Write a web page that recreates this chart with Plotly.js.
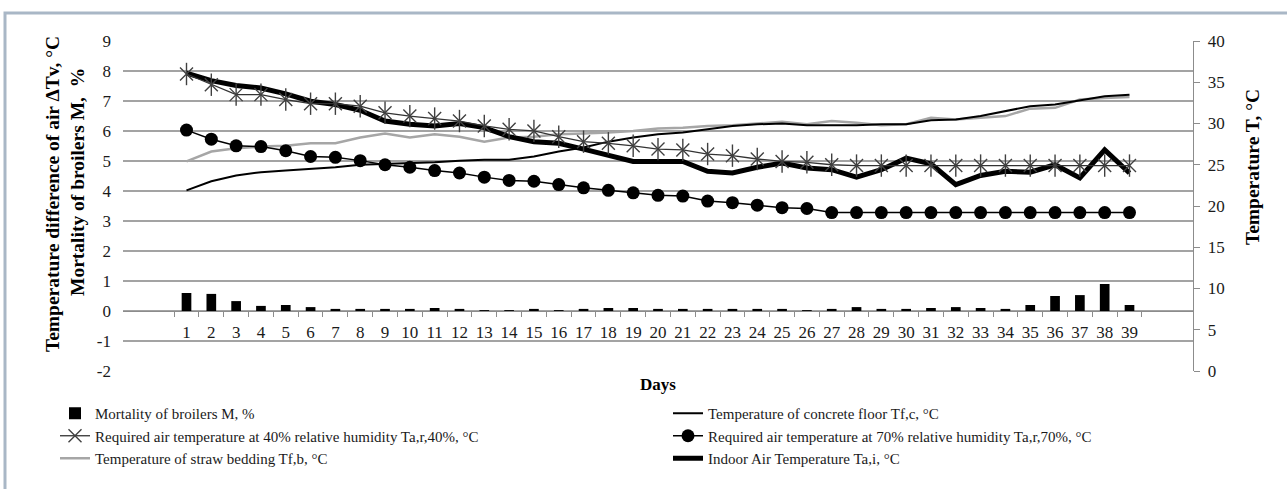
<!DOCTYPE html>
<html>
<head>
<meta charset="utf-8">
<script src="https://cdn.plot.ly/plotly-3.0.1.min.js"></script>
<style>
  html, body { margin: 0; padding: 0; background: #ffffff; }
  #chart { width: 1287px; height: 489px; }
</style>
</head>
<body>
<div id="chart"></div>
<script>
// Days of the rearing period
const days = [1,2,3,4,5,6,7,8,9,10,11,12,13,14,15,16,17,18,19,20,
              21,22,23,24,25,26,27,28,29,30,31,32,33,34,35,36,37,38,39];

// Mortality of broilers M, % (left axis)
const mortality = [0.60,0.57,0.33,0.17,0.20,0.13,0.07,0.07,0.07,0.07,
                   0.10,0.07,0.03,0.03,0.07,0.03,0.07,0.10,0.10,0.07,
                   0.07,0.07,0.07,0.07,0.07,0.03,0.07,0.13,0.07,0.07,
                   0.10,0.13,0.10,0.07,0.20,0.50,0.53,0.90,0.20];

// Temperature of concrete floor Tf,c, °C (right axis)
const floorConcrete = [21.9,23.0,23.7,24.1,24.3,24.5,24.7,25.0,25.1,25.2,
                       25.3,25.5,25.6,25.6,26.0,26.6,27.1,27.8,28.3,28.7,
                       28.9,29.3,29.7,29.9,30.0,29.8,29.8,29.8,29.9,29.9,
                       30.4,30.5,30.9,31.5,32.1,32.3,32.8,33.3,33.5];

// Required air temperature at 40% RH Ta,r,40%, °C
const required40 = [36.0,34.7,33.5,33.5,32.9,32.4,32.4,32.1,31.3,30.9,
                    30.6,30.3,29.7,29.3,29.1,28.4,27.8,27.6,27.3,26.9,
                    26.8,26.3,26.1,25.7,25.4,25.3,25.0,24.9,24.9,24.9,
                    24.9,24.9,24.9,24.9,24.9,24.9,24.9,24.9,24.9];

// Required air temperature at 70% RH Ta,r,70%, °C
const required70 = [29.2,28.1,27.3,27.2,26.7,26.0,25.9,25.5,25.0,24.7,
                    24.3,24.0,23.5,23.1,23.0,22.6,22.2,21.9,21.6,21.3,
                    21.2,20.6,20.4,20.1,19.8,19.7,19.2,19.2,19.2,19.2,
                    19.2,19.2,19.2,19.2,19.2,19.2,19.2,19.2,19.2];

// Temperature of straw bedding Tf,b, °C
const strawBedding = [25.4,26.6,27.0,27.2,27.3,27.6,27.6,28.3,28.8,28.3,
                      28.7,28.4,27.8,28.3,28.4,28.7,28.8,28.9,29.1,29.4,
                      29.5,29.7,29.8,30.0,30.2,29.9,30.3,30.1,29.8,29.9,
                      30.7,30.5,30.7,30.9,31.8,31.9,32.9,33.1,33.2];

// Indoor air temperature Ta,i, °C
const indoorAir = [36.1,35.2,34.6,34.3,33.6,32.7,32.3,31.6,30.3,29.9,
                   29.7,30.0,29.5,28.4,27.8,27.6,26.9,26.1,25.4,25.4,
                   25.4,24.2,24.0,24.7,25.2,24.6,24.4,23.5,24.4,25.8,
                   25.1,22.6,23.7,24.2,24.1,25.0,23.4,26.8,24.0];

// Left axis tick values and their labels (plain hyphen for negatives)
const leftTicks = [-2,-1,0,1,2,3,4,5,6,7,8,9];
const leftTickLabels = ['-2','-1','0','1','2','3','4','5','6','7','8','9'];

const serif = 'Liberation Serif, "Times New Roman", serif';

// Figure geometry (pixels) used to place free text, legends and the frame
const W = 1287, H = 489;
const M = { l: 123, r: 94, t: 41, b: 118, autoexpand: false };
const plotW = W - M.l - M.r, plotH = H - M.t - M.b;
const px2x = px => (px - M.l) / plotW;
const py2y = py => (H - M.b - py) / plotH;

const leftRange = [-2, 9];
const rightRange = [0, 40];
const starColor = '#404040';
const axisGray = '#8c8c8c';

const traces = [
  {
    type: 'bar', x: days, y: mortality, name: 'Mortality of broilers M, %',
    marker: { color: '#000000' }, xaxis: 'x', yaxis: 'y',
    legend: 'legend', legendrank: 1
  },
  {
    type: 'scatter', mode: 'lines', x: days, y: strawBedding,
    name: 'Temperature of straw bedding Tf,b, °C',
    line: { color: '#a6a6a6', width: 2.5 }, yaxis: 'y2',
    legend: 'legend', legendrank: 3
  },
  {
    type: 'scatter', mode: 'lines', x: days, y: floorConcrete,
    name: 'Temperature of concrete floor Tf,c, °C',
    line: { color: '#000000', width: 2 }, yaxis: 'y2',
    legend: 'legend2', legendrank: 1
  },
  {
    type: 'scatter', mode: 'lines+markers', x: days, y: required70,
    name: 'Required air temperature at 70% relative humidity Ta,r,70%, °C',
    line: { color: '#000000', width: 1.5 },
    marker: { symbol: 'circle', size: 13, color: '#000000' },
    yaxis: 'y2', legend: 'legend2', legendrank: 2
  },
  {
    type: 'scatter', mode: 'lines', x: days, y: indoorAir,
    name: 'Indoor Air Temperature Ta,i, °C',
    line: { color: '#000000', width: 5 }, yaxis: 'y2',
    legend: 'legend2', legendrank: 3
  },
  {
    type: 'scatter', mode: 'lines+markers', x: days, y: required40,
    name: 'Required air temperature at 40% relative humidity Ta,r,40%, °C',
    line: { color: '#333333', width: 1.3 },
    marker: { symbol: 'x-thin-open', size: 13, color: starColor,
              line: { color: starColor, width: 1.4 } },
    yaxis: 'y2', legend: 'legend', legendrank: 2
  },
  {
    // vertical stroke completing the six-armed star marker
    type: 'scatter', mode: 'markers', x: days, y: required40,
    marker: { symbol: 'line-ns-open', size: 16, color: starColor,
              line: { color: starColor, width: 1.4 } },
    yaxis: 'y2', showlegend: false, hoverinfo: 'skip'
  }
];

const titleFont = { family: serif, size: 19.5, color: '#000000', weight: 'bold' };
const tickFont = { family: serif, size: 17, color: '#1a1a1a' };
const legendFont = { family: serif, size: 15, color: '#1a1a1a' };

const legendBase = {
  orientation: 'v',
  xanchor: 'left', yanchor: 'top',
  font: legendFont,
  bgcolor: 'rgba(0,0,0,0)',
  borderwidth: 0,
  itemwidth: 30,
  tracegroupgap: 0
};

const layout = {
  width: W, height: H,
  margin: M,
  paper_bgcolor: '#ffffff',
  plot_bgcolor: '#ffffff',
  font: { family: serif, color: '#1a1a1a' },
  showlegend: true,
  bargap: 0.61,
  xaxis: {
    type: 'category',
    anchor: 'free',
    position: (0 - leftRange[0]) / (leftRange[1] - leftRange[0]),
    showline: true, linecolor: axisGray, linewidth: 1.3,
    ticks: 'outside', ticklen: 5, tickcolor: axisGray, tickwidth: 1,
    tickson: 'boundaries', tickangle: 0,
    showgrid: false, zeroline: false,
    tickfont: tickFont,
    ticklabelstandoff: 5
  },
  yaxis: {
    range: leftRange,
    tickmode: 'array', tickvals: leftTicks, ticktext: leftTickLabels,
    showgrid: true, gridcolor: '#a3a3a3', gridwidth: 1.5,
    zeroline: false, showline: false, ticks: '',
    tickfont: tickFont,
    ticklabelstandoff: 11
  },
  yaxis2: {
    overlaying: 'y', side: 'right',
    range: rightRange, dtick: 5, tick0: 0,
    showgrid: false, zeroline: false,
    showline: true, linecolor: axisGray, linewidth: 1.3,
    ticks: 'outside', ticklen: 6, tickcolor: axisGray,
    tickfont: tickFont,
    ticklabelstandoff: 4
  },
  legend: Object.assign({}, legendBase, { x: px2x(55), y: py2y(397) }),
  legend2: Object.assign({}, legendBase, { x: px2x(668), y: py2y(397) }),
  annotations: [
    {
      text: 'Temperature difference of air ΔTv, °C',
      xref: 'paper', yref: 'paper', x: px2x(52), y: py2y(194),
      xanchor: 'center', yanchor: 'middle', textangle: -90, showarrow: false,
      font: titleFont
    },
    {
      text: 'Mortality of broilers M,  %',
      xref: 'paper', yref: 'paper', x: px2x(77), y: py2y(182),
      xanchor: 'center', yanchor: 'middle', textangle: -90, showarrow: false,
      font: titleFont
    },
    {
      text: 'Temperature T, °C',
      xref: 'paper', yref: 'paper', x: px2x(1252), y: py2y(167),
      xanchor: 'center', yanchor: 'middle', textangle: -90, showarrow: false,
      font: titleFont
    },
    {
      text: 'Days',
      xref: 'paper', yref: 'paper', x: px2x(658), y: py2y(384),
      xanchor: 'center', yanchor: 'middle', showarrow: false,
      font: Object.assign({}, titleFont, { size: 17 })
    }
  ],
  shapes: [
    {
      // outer frame around the figure
      type: 'rect', xref: 'paper', yref: 'paper',
      x0: px2x(5), x1: px2x(1310), y0: py2y(520), y1: py2y(13),
      line: { color: '#a9b7c6', width: 3 }, fillcolor: 'rgba(0,0,0,0)',
      layer: 'above'
    }
  ]
};

Plotly.newPlot('chart', traces, layout, { displayModeBar: false, staticPlot: true });
</script>
</body>
</html>
